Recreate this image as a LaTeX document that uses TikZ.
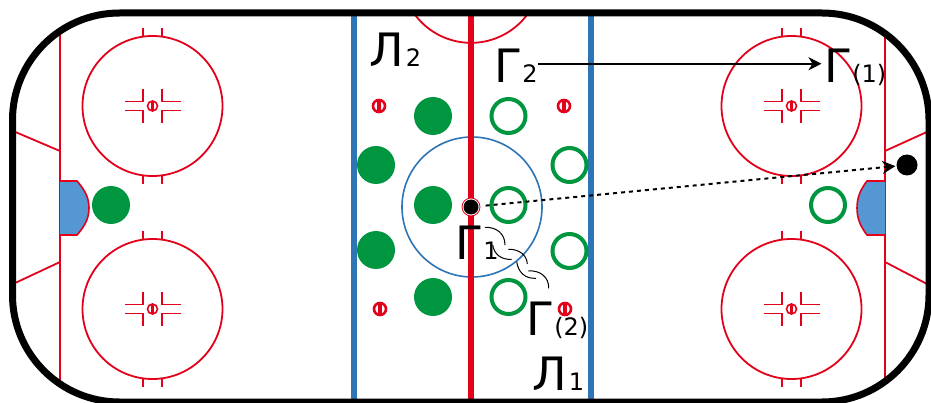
\documentclass[tikz,border=0pt]{standalone}
\usepackage{fontspec}
\setmainfont{DejaVu Sans}
\usetikzlibrary{arrows.meta}
\definecolor{rinkred}{HTML}{E2001A}
\definecolor{rinkblue}{HTML}{2E75B6}
\definecolor{creaseblue}{HTML}{5597D2}
\definecolor{playergreen}{HTML}{009640}
\tikzset{
  rink/.style={draw=black, line width=7pt, rounded corners=107pt},
  marking/.style={draw=rinkred, line width=1.8pt},
  crease/.style={draw=rinkred, line width=1.6pt, fill=creaseblue},
  bluezone/.style={draw=rinkblue, line width=5.5pt},
  spot/.style={circle, draw=rinkred, fill=white, line width=1.6pt, minimum size=10pt, inner sep=0pt,
    path picture={\fill[rinkred] ([xshift=-1.7pt,yshift=-7pt]path picture bounding box.center) rectangle ([xshift=1.7pt,yshift=7pt]path picture bounding box.center);}},
  bigspot/.style={spot, line width=2.6pt, minimum size=12pt},
  filledplayer/.style={circle, fill=playergreen, minimum size=38pt, inner sep=0pt},
  openplayer/.style={circle, draw=playergreen, line width=4pt, minimum size=34pt, inner sep=0pt},
  puck/.style={circle, fill=black, minimum size=#1, inner sep=0pt},
  biglabel/.style={anchor=base west, inner sep=0pt, font=\fontsize{46}{46}\selectfont},
  pics/faceoff/.style={code={
    \draw[marking] (0,0) circle (70);
    \node[spot] at (0,0) {};
    \foreach \sx in {-1,1} {
      \draw[marking] (\sx*9.5,-78) -- (\sx*9.5,-69);
      \draw[marking] (\sx*9.5,69) -- (\sx*9.5,78);
      \draw[marking] (\sx*9.5,-17) -- (\sx*9.5,-4.5) -- (\sx*28,-4.5);
      \draw[marking] (\sx*9.5,17) -- (\sx*9.5,4.5) -- (\sx*28,4.5);
    }
  }}
}
\newcommand{\subsize}{\kern2pt\fontsize{24}{24}\selectfont}
\begin{document}
\begin{tikzpicture}[x=1pt, y=-1pt, >={Stealth[length=13pt,width=13pt,inset=4pt]}]
\useasboundingbox (0,0) rectangle (931,403);
\fill[white] (0,0) rectangle (931,403);

\draw[marking] (60,30) -- (60,385);
\draw[marking] (885,30) -- (885,385);
\draw[marking] (13,131) -- (60,151);
\draw[marking] (13,284) -- (60,262);
\draw[marking] (885,151) -- (929,131);
\draw[marking] (885,262) -- (929,285);
\draw[crease] (60,181) -- (77,181) .. controls (85,190) and (89,198) .. (89,208) .. controls (89,218) and (85,226) .. (77,235) -- (60,235);
\draw[crease] (885,181) -- (867,181) .. controls (860,190) and (857,198) .. (857,208) .. controls (857,218) and (860,226) .. (867,235) -- (885,235);

\pic at (152.5,106) {faceoff};
\pic at (152.5,309) {faceoff};
\pic at (791.5,106) {faceoff};
\pic at (791.5,309) {faceoff};

\draw[marking] (413.7,13) arc (145:35:70);
\draw[bluezone] (354,13) -- (354,402);
\draw[bluezone] (591,13) -- (591,402);
\draw[draw=rinkblue, line width=1.6pt] (472,207) circle (70);
\draw[draw=rinkred, line width=6pt] (471,13) -- (471,402);

\draw[rink] (12.5,13) rectangle (929,402);

\node[bigspot] (s1) at (379,106) {};
\node[bigspot] (s2) at (564,106) {};
\node[bigspot] (s3) at (380,309) {};
\node[bigspot] (s4) at (565,309) {};

\node[filledplayer] (f1) at (433,116) {};
\node[filledplayer] (f2) at (376,165) {};
\node[filledplayer] (f3) at (433,205) {};
\node[filledplayer] (f4) at (376,250) {};
\node[filledplayer] (f5) at (433,297) {};
\node[filledplayer] (f6) at (111,205) {};
\node[openplayer] (o1) at (508.5,116) {};
\node[openplayer] (o2) at (569.5,165) {};
\node[openplayer] (o3) at (508.5,205) {};
\node[openplayer] (o4) at (569.5,251) {};
\node[openplayer] (o5) at (508.5,297) {};
\node[openplayer] (o6) at (828,205) {};

\node[circle, draw=rinkred, fill=white, line width=0.8pt, minimum size=18pt, inner sep=0pt] at (471,207) {};
\node[puck=15pt] (start) at (471,207) {};
\node[puck=21pt] (target) at (907,165) {};

\node[biglabel] (l2) at (369,67) {Л\subsize 2};
\node[biglabel] (l1) at (532,390) {Л\subsize 1};
\node[biglabel] (g2) at (494.5,83) {Γ\subsize 2};
\node[biglabel] (g1) at (455.5,260) {Γ\subsize 1};
\node[biglabel] (gp2) at (526.5,335) {Γ\subsize (2)};
\node[biglabel] (gp1) at (824.5,83) {Γ\subsize (1)};

\draw[->, line width=2pt, shorten >=3pt] ([yshift=2.5pt]g2.east) -- ([yshift=2.5pt]g2.east -| gp1.west);
\draw[->, line width=2pt, dash pattern=on 4pt off 4pt, shorten <=7pt, shorten >=1pt] (start) -- (target);

\draw[line width=1pt] (485,227.3) .. controls (497,227) and (505,234) .. (505,245);
\draw[line width=1pt] (492.7,245) .. controls (494,254) and (501,260) .. (511.7,259.3);
\draw[line width=1pt] (508.3,249.3) .. controls (519,249) and (527,255) .. (527.3,264);
\draw[line width=1pt] (516.7,261.7) .. controls (518,272) and (525,279) .. (536,278.3);
\draw[line width=1pt] (528.3,271) .. controls (540,270) and (549,277) .. (548.7,288.3);
\end{tikzpicture}
\end{document}
